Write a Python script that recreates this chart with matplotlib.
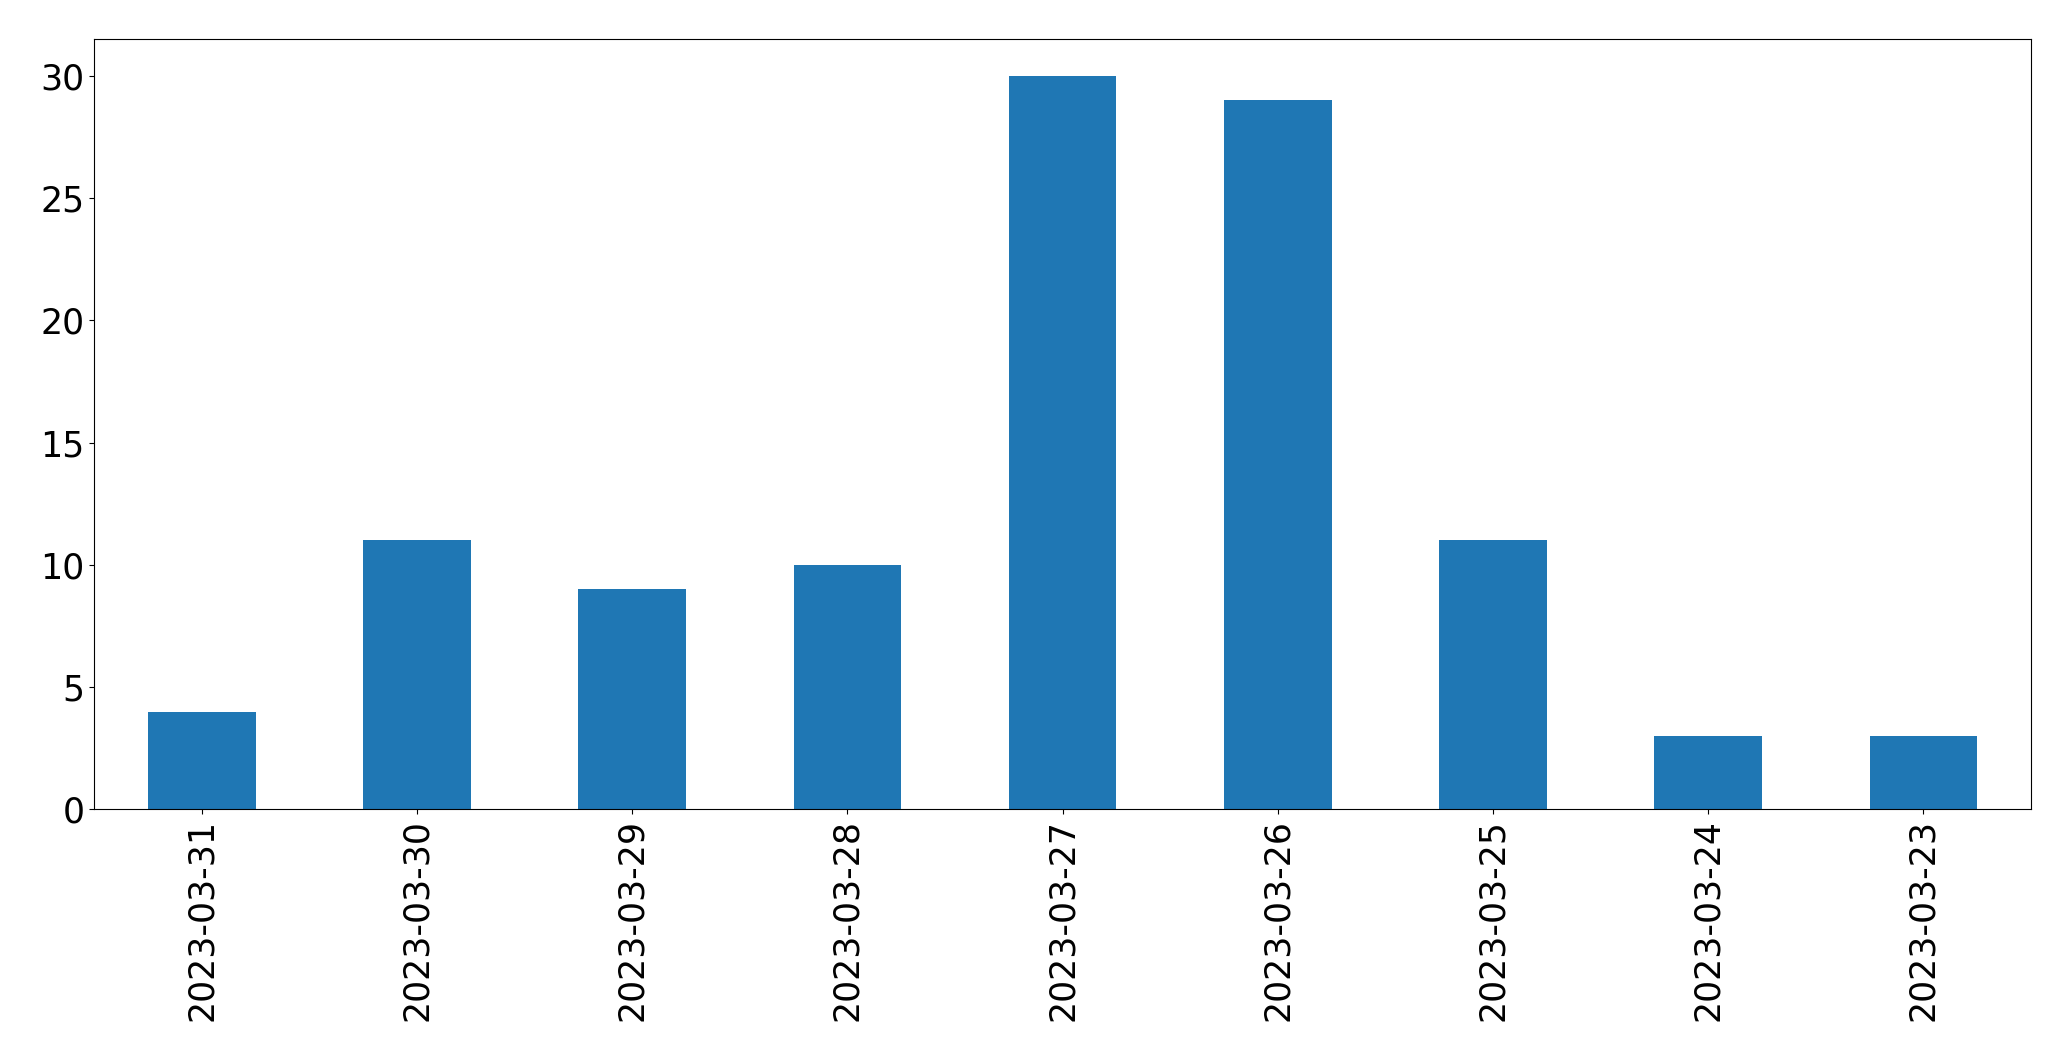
import matplotlib
matplotlib.use("Agg")
import matplotlib.pyplot as plt

dates = ["2023-03-31", "2023-03-30", "2023-03-29", "2023-03-28", "2023-03-27",
         "2023-03-26", "2023-03-25", "2023-03-24", "2023-03-23"]
counts = [4, 11, 9, 10, 30, 29, 11, 3, 3]

fig = plt.figure(figsize=(20.71, 10.61), dpi=100)
ax = fig.add_axes([0.0455, 0.2372, 0.9352, 0.7258])

x = list(range(len(dates)))
ax.bar(x, counts, width=0.5, color="#1f77b4")
ax.set_xlim(-0.5, len(dates) - 0.5)
ax.set_ylim(0, max(counts) * 1.05)
ax.set_xticks(x)
ax.set_xticklabels(dates, rotation=90)
ax.tick_params(labelsize=25)

fig.savefig("out.png", dpi=100)
